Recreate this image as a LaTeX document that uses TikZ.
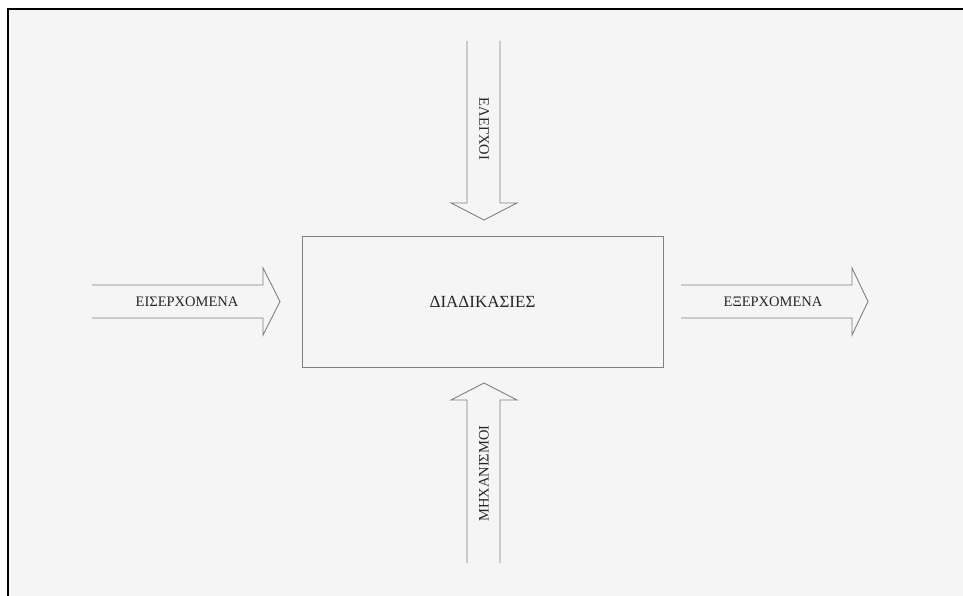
\documentclass[tikz,border=0pt]{standalone}
\usepackage{fontspec}
\setmainfont{Liberation Serif}
\begin{document}
\begin{tikzpicture}[x=1pt,y=-1pt,
  outline/.style={draw=black!50, line width=0.9pt, line join=miter},
  lbl/.style={text=black!85, inner sep=0pt, font=\fontsize{14.5}{16}\selectfont},
  mainlbl/.style={text=black!85, inner sep=0pt, font=\fontsize{17}{19}\selectfont}]
  % page and panel
  \useasboundingbox (0,0) rectangle (963,596);
  \fill[white] (0,0) rectangle (963,596);
  \fill[black!4] (8,9.5) rectangle (963,596);
  \draw[black, line width=2pt] (8,596) -- (8,9.5) -- (963,9.5);

  % central process box
  \node[outline, minimum width=361pt, minimum height=131pt, inner sep=0pt] (proc) at (482.5,301.5) {};
  \node[mainlbl] (proclbl) at (proc.center) {ΔΙΑΔΙΚΑΣΙΕΣ};

  % controls (from above)
  \draw[outline] (467,41) -- (467,203) -- (451,203) -- (484,220) -- (517,203) -- (500,203) -- (500,41);
  \node[lbl, rotate=-90] (ctrl) at (484,129) {ΕΛΕΓΧΟΙ};

  % inputs (from the left)
  \draw[outline] (92,285) -- (263,285) -- (263,268) -- (280,301.5) -- (263,335) -- (263,318) -- (92,318);
  \node[lbl] (inp) at (187,302) {ΕΙΣΕΡΧΟΜΕΝΑ};

  % outputs (to the right)
  \draw[outline] (681,285) -- (852,285) -- (852,268) -- (868,301.5) -- (852,335) -- (852,318) -- (681,318);
  \node[lbl] (outp) at (773,302) {ΕΞΕΡΧΟΜΕΝΑ};

  % mechanisms (from below)
  \draw[outline] (467,563) -- (467,400) -- (451,400) -- (484,383) -- (517,400) -- (500,400) -- (500,563);
  \node[lbl, rotate=90] (mech) at (484,473.5) {ΜΗΧΑΝΙΣΜΟΙ};
\end{tikzpicture}
\end{document}
